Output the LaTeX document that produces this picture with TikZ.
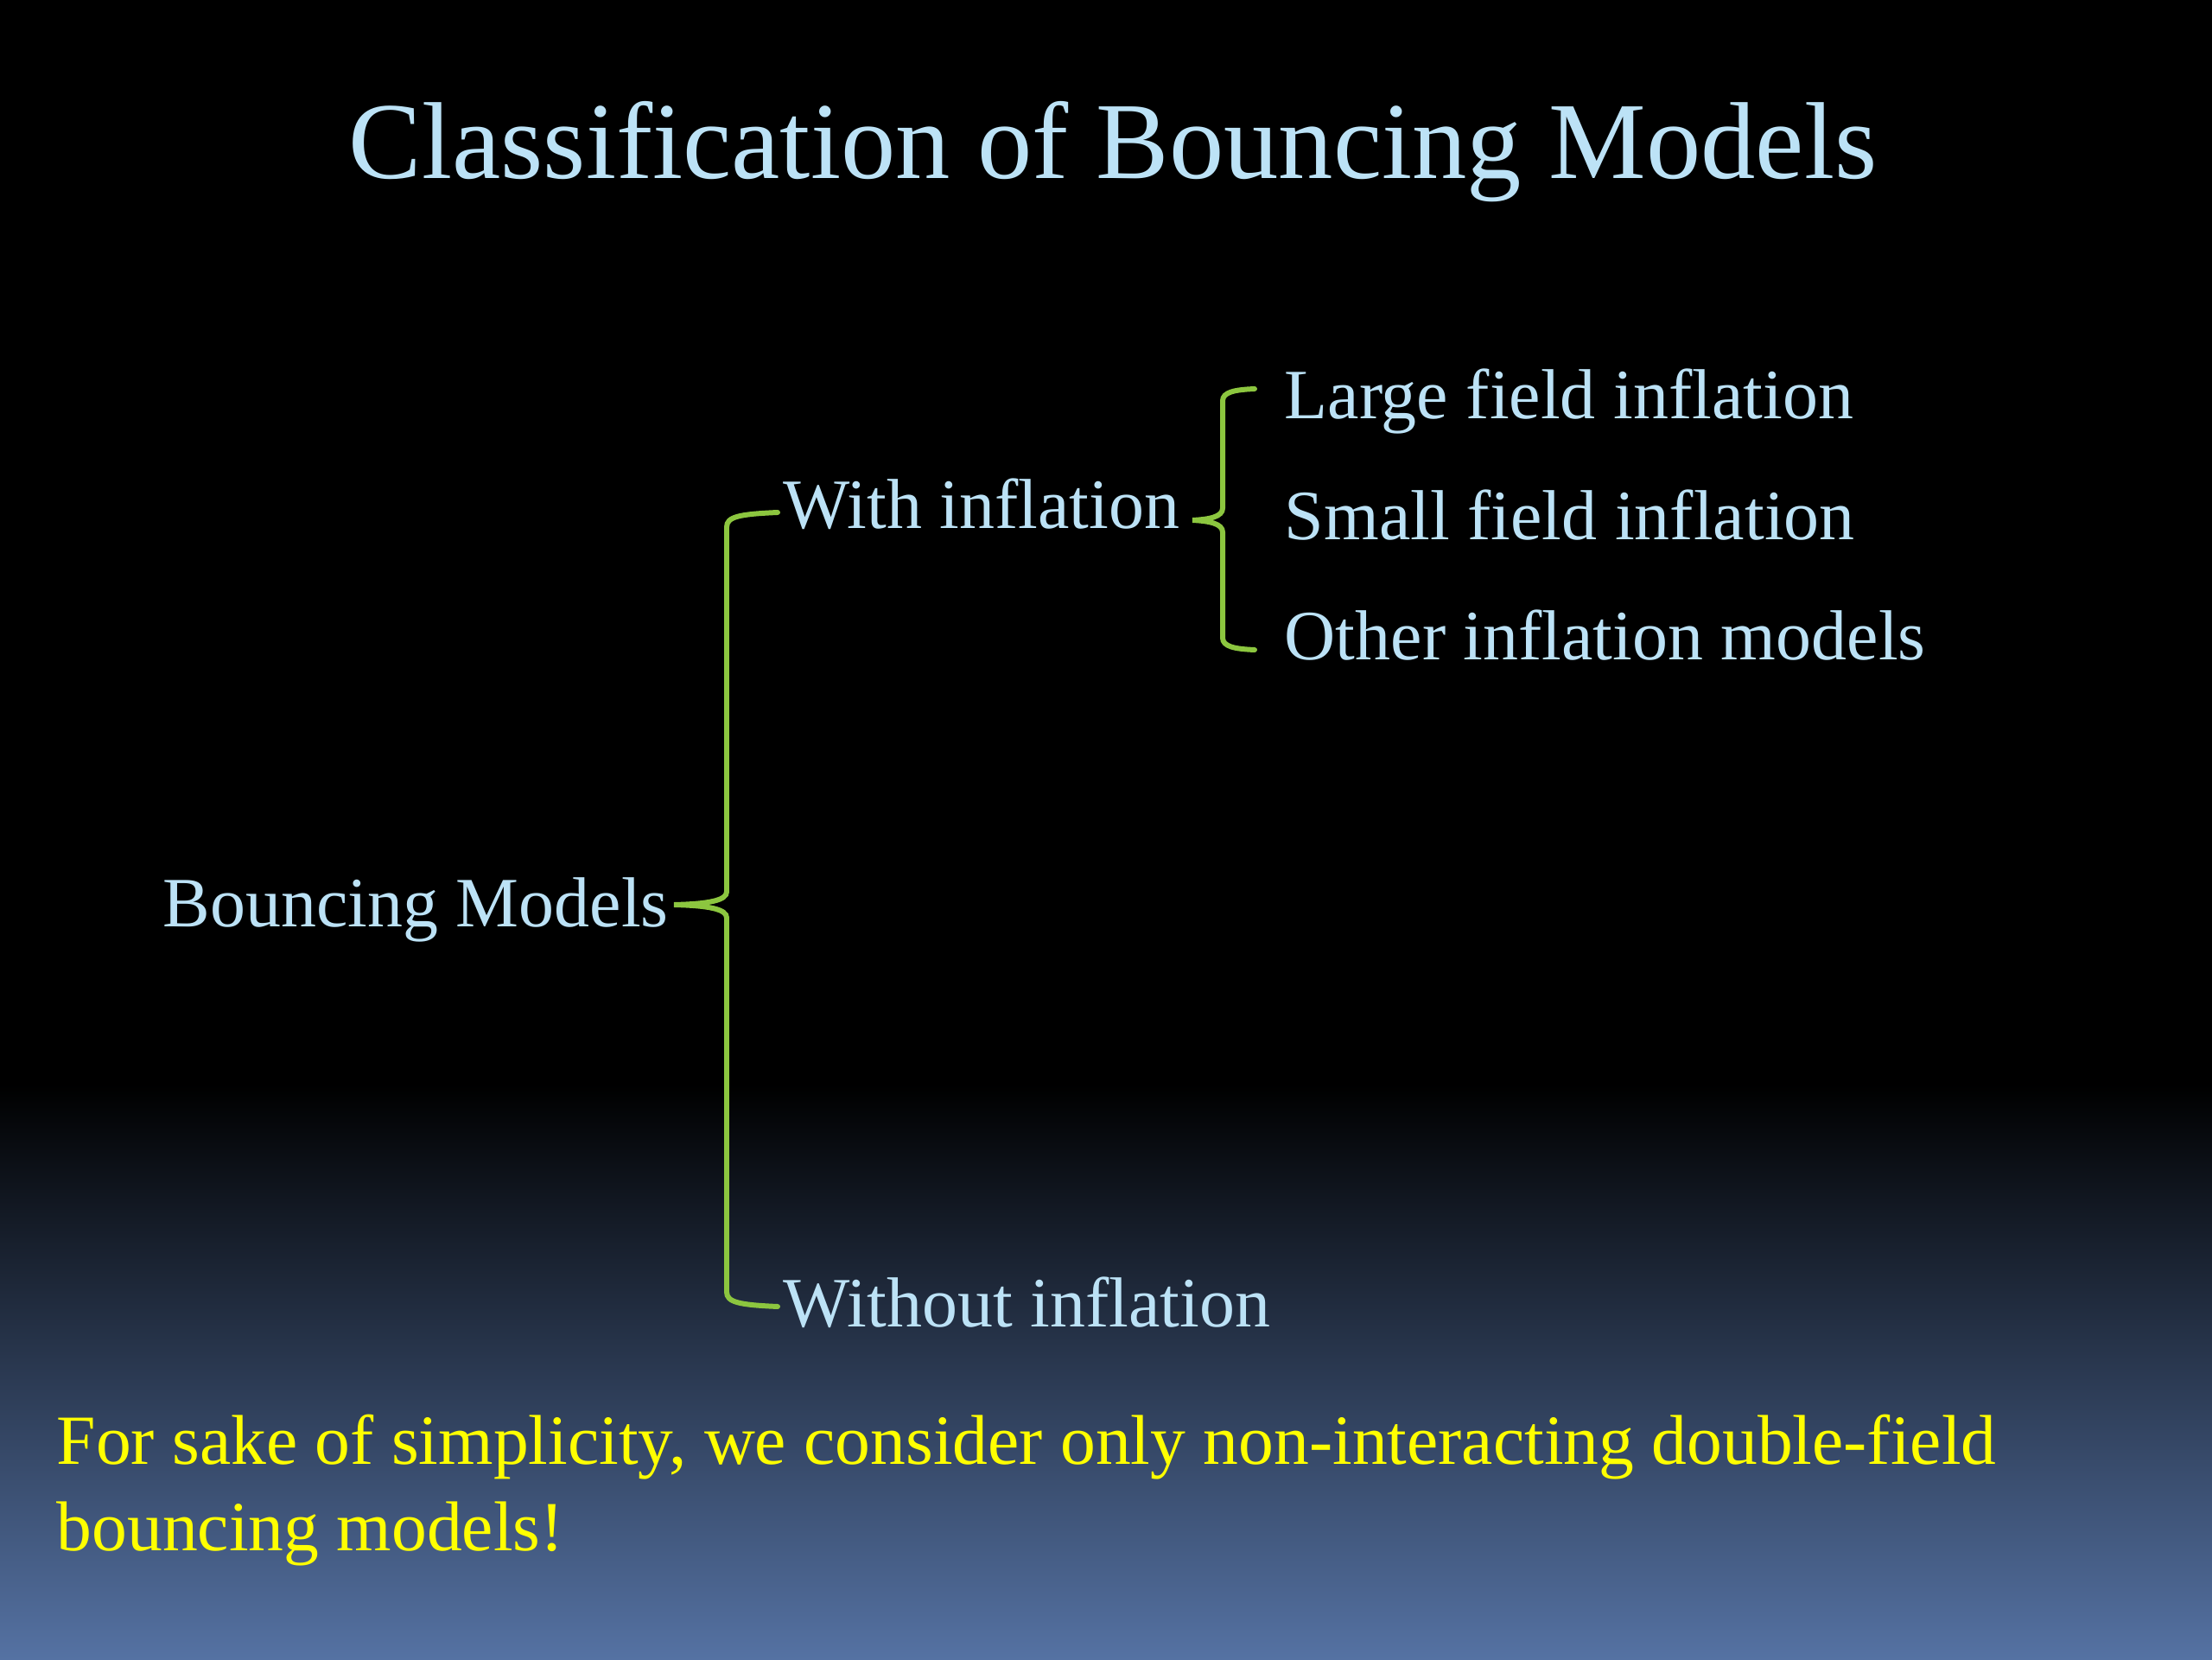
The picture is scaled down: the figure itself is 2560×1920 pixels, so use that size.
\documentclass[tikz,border=0pt]{standalone}
\usepackage{fontspec}
\setmainfont{Liberation Serif}
\usetikzlibrary{positioning}
\definecolor{Ice}{HTML}{BCE2F6}
\definecolor{Leaf}{HTML}{8CC63F}
\definecolor{Lemon}{HTML}{FFFF00}
\definecolor{Dusk}{HTML}{5572A3}
\begin{document}
\begin{tikzpicture}[x=.01cm,y=.01cm,
    lbl/.style={Ice,anchor=base west,inner sep=0,font=\fontsize{23.3}{28}\selectfont},
    brace/.style={Leaf,line width=1.7pt,line cap=round}]
  % backdrop
  \fill[black](0,0)rectangle(2560,1920);
  \shade[top color=black,bottom color=Dusk](0,0)rectangle(2560,665);
  \useasboundingbox(0,0)rectangle(2560,1920);

  \node[Ice,anchor=base,inner sep=0,font=\fontsize{36}{42}\selectfont](title)at(1288,1713){Classification of Bouncing Models};

  \node[lbl](bm)at(188,847){Bouncing Models};
  \node[lbl](with)at(906,1308){With inflation};
  \node[lbl](without)at(906,385){Without inflation};
  \node[lbl](large)at(1486,1435){Large field inflation};
  \node[lbl](small)at(1486,1295){Small field inflation};
  \node[lbl](other)at(1486,1156){Other inflation models};

  % braces
  \coordinate(bmtip)at(780,873);
  \coordinate(wtip)at(1380,1318);
  \coordinate(wtop)at(900,1327);
  \coordinate(wotop)at(900,408);
  \draw[brace](wtop)..controls(855,1325)and(841,1322)..(841,1310)--(841,888)
    ..controls(841,878)and(820,874)..(bmtip)..controls(820,872)and(841,868)..(841,858)--(841,425)
    ..controls(841,413)and(855,410)..(wotop);
  \draw[brace](1452,1470)..controls(1428,1469)and(1415,1466)..(1415,1456)--(1415,1332)
    ..controls(1415,1322)and(1400,1319)..(wtip)..controls(1400,1317)and(1415,1314)..(1415,1304)--(1415,1182)
    ..controls(1415,1172)and(1428,1169)..(1452,1168);

  \node[Lemon,anchor=base west,inner sep=0,align=left,font=\fontsize{23.2}{28.2}\selectfont](note)at(65,126)
    {For sake of simplicity, we consider only non-interacting double-field\\bouncing models!};
\end{tikzpicture}
\end{document}
